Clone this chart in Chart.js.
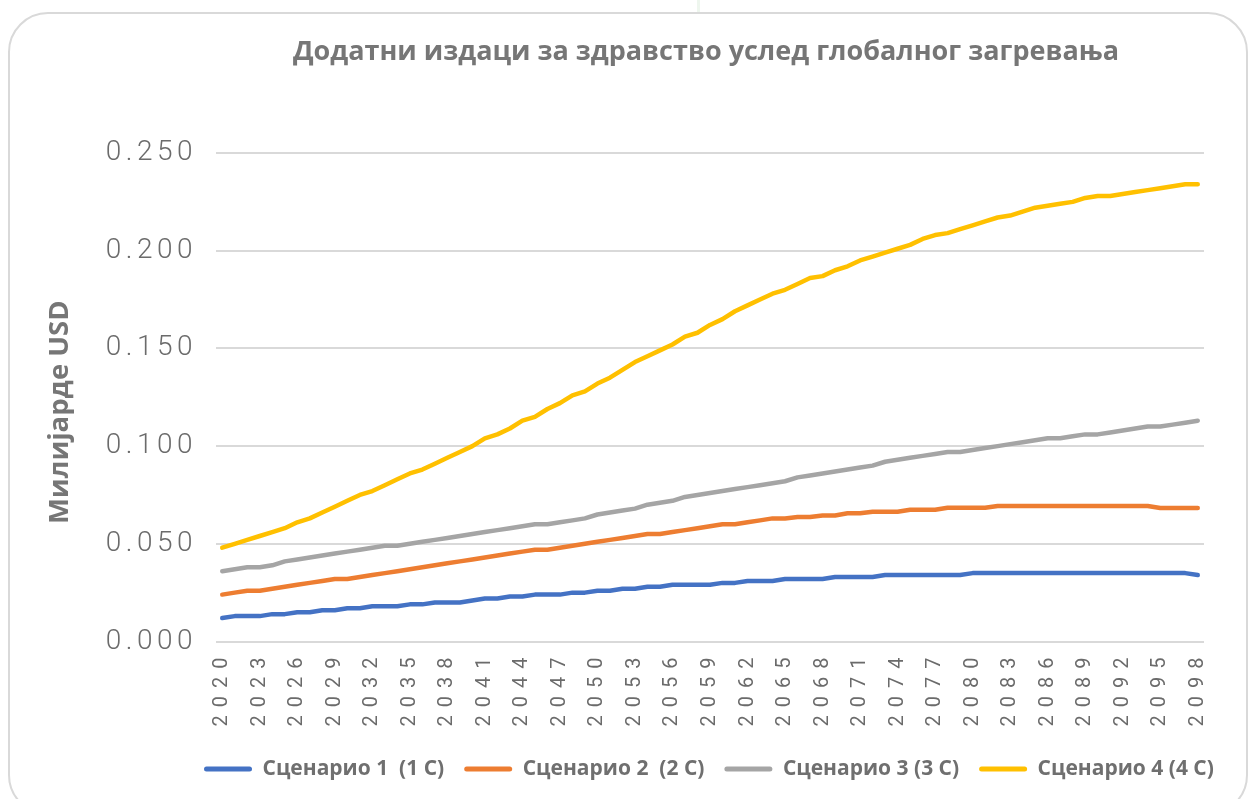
<!DOCTYPE html>
<html><head><meta charset="utf-8">
<script src="https://cdn.jsdelivr.net/npm/chart.js@4.4.1/dist/chart.umd.min.js"></script>
<style>
html,body{margin:0;padding:0;background:#fff;overflow:hidden;}
#wrap{position:relative;width:1250px;height:799px;overflow:hidden;}
#frame{position:absolute;left:8px;top:12px;width:1240px;height:803px;box-sizing:border-box;border:2px solid #d9d9d9;border-radius:40px;}
#mark{position:absolute;left:697px;top:0;width:3px;height:12px;background:#eef6ee;}
canvas{position:absolute;left:0;top:0;}
</style></head><body>
<div id="wrap"><div id="frame"></div><div id="mark"></div><canvas id="c" width="1250" height="799"></canvas></div>
<script>
const titleText = 'Додатни издаци за здравство услед глобалног загревања';
const yTitle = 'Милијарде USD';
const seriesNames = ['Сценарио 1  (1 C)', 'Сценарио 2  (2 C)', 'Сценарио 3 (3 C)', 'Сценарио 4 (4 C)'];
const seriesColors = ['#4472C4', '#ED7D31', '#A5A5A5', '#FFC000'];

const years = [2020,2021,2022,2023,2024,2025,2026,2027,2028,2029,
  2030,2031,2032,2033,2034,2035,2036,2037,2038,2039,
  2040,2041,2042,2043,2044,2045,2046,2047,2048,2049,
  2050,2051,2052,2053,2054,2055,2056,2057,2058,2059,
  2060,2061,2062,2063,2064,2065,2066,2067,2068,2069,
  2070,2071,2072,2073,2074,2075,2076,2077,2078,2079,
  2080,2081,2082,2083,2084,2085,2086,2087,2088,2089,
  2090,2091,2092,2093,2094,2095,2096,2097,2098];

const shownYears = [2020,2023,2026,2029,2032,2035,2038,2041,2044,2047,2050,2053,2056,2059,
  2062,2065,2068,2071,2074,2077,2080,2083,2086,2089,2092,2095,2098];

const yTickLabels = ['0.000','0.050','0.100','0.150','0.200','0.250'];

const scenario1 = [0.012,0.013,0.013,0.013,0.014,0.014,0.015,0.015,0.016,0.016,
  0.017,0.017,0.018,0.018,0.018,0.019,0.019,0.020,0.020,0.020,
  0.021,0.022,0.022,0.023,0.023,0.024,0.024,0.024,0.025,0.025,
  0.026,0.026,0.027,0.027,0.028,0.028,0.029,0.029,0.029,0.029,
  0.030,0.030,0.031,0.031,0.031,0.032,0.032,0.032,0.032,0.033,
  0.033,0.033,0.033,0.034,0.034,0.034,0.034,0.034,0.034,0.034,
  0.035,0.035,0.035,0.035,0.035,0.035,0.035,0.035,0.035,0.035,
  0.035,0.035,0.035,0.035,0.035,0.035,0.035,0.035,0.034];

const scenario2 = [0.024,0.025,0.026,0.026,0.027,0.028,0.029,0.030,0.031,0.032,
  0.032,0.033,0.034,0.035,0.036,0.037,0.038,0.039,0.040,0.041,
  0.042,0.043,0.044,0.045,0.046,0.047,0.047,0.048,0.049,0.050,
  0.051,0.052,0.053,0.054,0.055,0.055,0.056,0.057,0.058,0.059,
  0.060,0.060,0.061,0.062,0.063,0.063,0.0637,0.0637,0.0645,0.0645,
  0.0656,0.0656,0.0664,0.0664,0.0664,0.0674,0.0674,0.0674,0.0684,0.0684,
  0.0684,0.0684,0.0693,0.0693,0.0693,0.0693,0.0693,0.0693,0.0693,0.0693,
  0.0693,0.0693,0.0693,0.0693,0.0693,0.0683,0.0683,0.0683,0.0683];

const scenario3 = [0.036,0.037,0.038,0.038,0.039,0.041,0.042,0.043,0.044,0.045,
  0.046,0.047,0.048,0.049,0.049,0.050,0.051,0.052,0.053,0.054,
  0.055,0.056,0.057,0.058,0.059,0.060,0.060,0.061,0.062,0.063,
  0.065,0.066,0.067,0.068,0.070,0.071,0.072,0.074,0.075,0.076,
  0.077,0.078,0.079,0.080,0.081,0.082,0.084,0.085,0.086,0.087,
  0.088,0.089,0.090,0.092,0.093,0.094,0.095,0.096,0.097,0.097,
  0.098,0.099,0.100,0.101,0.102,0.103,0.104,0.104,0.105,0.106,
  0.106,0.107,0.108,0.109,0.110,0.110,0.111,0.112,0.113];

const scenario4 = [0.048,0.050,0.052,0.054,0.056,0.058,0.061,0.063,0.066,0.069,
  0.072,0.075,0.077,0.080,0.083,0.086,0.088,0.091,0.094,0.097,
  0.100,0.104,0.106,0.109,0.113,0.115,0.119,0.122,0.126,0.128,
  0.132,0.135,0.139,0.143,0.146,0.149,0.152,0.156,0.158,0.162,
  0.165,0.169,0.172,0.175,0.178,0.180,0.183,0.186,0.187,0.190,
  0.192,0.195,0.197,0.199,0.201,0.203,0.206,0.208,0.209,0.211,
  0.213,0.215,0.217,0.218,0.220,0.222,0.223,0.224,0.225,0.227,
  0.228,0.228,0.229,0.230,0.231,0.232,0.233,0.234,0.234];

const seriesValues = [scenario1, scenario2, scenario3, scenario4];

// letter-spaced axis labels, shifted axis title, title/legend centred on plot area
const axisStyle = {
  id: 'axisStyle',
  afterLayout(chart) {
    const ca = chart.chartArea;
    if (chart.titleBlock) { chart.titleBlock.left = ca.left - 4; chart.titleBlock.right = ca.right - 4; }
    const lg = chart.legend;
    if (lg && lg.lineWidths && lg.lineWidths.length) {
      const lw = lg.lineWidths[0];
      const start = 199;
      lg.right = start + lw + 30;
      lg.left = start - 40;
    }
  },
  beforeDraw(chart) {
    const spacing = {x: '8px', y: '4.5px'};
    Object.keys(spacing).forEach(id => {
      const s = chart.scales[id];
      if (!s || s._patched) return;
      const origLabels = s.drawLabels;
      s.drawLabels = function(area) {
        const c = this.ctx; c.save(); c.letterSpacing = spacing[id];
        origLabels.call(this, area); c.restore();
      };
      if (id === 'y') {
        const origTitle = s.drawTitle;
        s.drawTitle = function() {
          const c = this.ctx; c.save(); c.translate(1, 15);
          origTitle.call(this); c.restore();
        };
      }
      s._patched = true;
    });
  }
};

new Chart(document.getElementById('c'), {
  type: 'line',
  data: {
    labels: years,
    datasets: seriesValues.map((vals, i) => ({
      label: seriesNames[i],
      data: vals,
      borderColor: seriesColors[i],
      backgroundColor: seriesColors[i],
      borderWidth: 4.5,
      pointRadius: 0,
      tension: 0,
      borderCapStyle: 'round',
      borderJoinStyle: 'round'
    }))
  },
  options: {
    responsive: false,
    animation: false,
    devicePixelRatio: 1,
    layout: {padding: {left: 0, right: 46, top: 0, bottom: 9.5}},
    plugins: {
      title: {display: true, text: titleText, color: '#767676',
        font: {family: 'Open Sans', size: 27, weight: 'bold'},
        padding: {top: 36, bottom: 84.6}},
      legend: {position: 'bottom',
        labels: {boxWidth: 48, boxHeight: 5, padding: 20, color: '#6f6f6f',
          font: {family: 'Open Sans', size: 21, weight: 'bold'},
          useBorderRadius: true, borderRadius: 2.5,
          generateLabels: (chart) => Chart.defaults.plugins.legend.labels.generateLabels(chart)
            .map(l => Object.assign(l, {lineWidth: 0, fillStyle: l.strokeStyle}))}},
      tooltip: {enabled: false}
    },
    scales: {
      x: {offset: true, grid: {display: false}, border: {display: false},
        ticks: {autoSkip: false, minRotation: 90, maxRotation: 90, padding: 0, color: '#6b6b6b',
          font: {family: 'Roboto', size: 20},
          callback: (v, i) => shownYears.includes(years[i]) ? String(years[i]) : ''},
        afterFit: s => { s.height = 97; }},
      y: {min: 0, max: 0.25,
        ticks: {stepSize: 0.05, padding: 19, color: '#6b6b6b',
          font: {family: 'Roboto', size: 28, weight: '300'},
          callback: (v, i) => yTickLabels[i] !== undefined ? yTickLabels[i] : v.toFixed(3)},
        grid: {color: '#d9d9d9', lineWidth: 2, drawTicks: false},
        border: {display: false},
        title: {display: true, text: yTitle, color: '#767676',
          font: {family: 'Open Sans', size: 27.5, weight: 'bold'}, padding: {top: 43, bottom: 0}},
        afterFit: s => { s.width = 216; }}
    }
  },
  plugins: [axisStyle]
});
</script>
</body></html>
